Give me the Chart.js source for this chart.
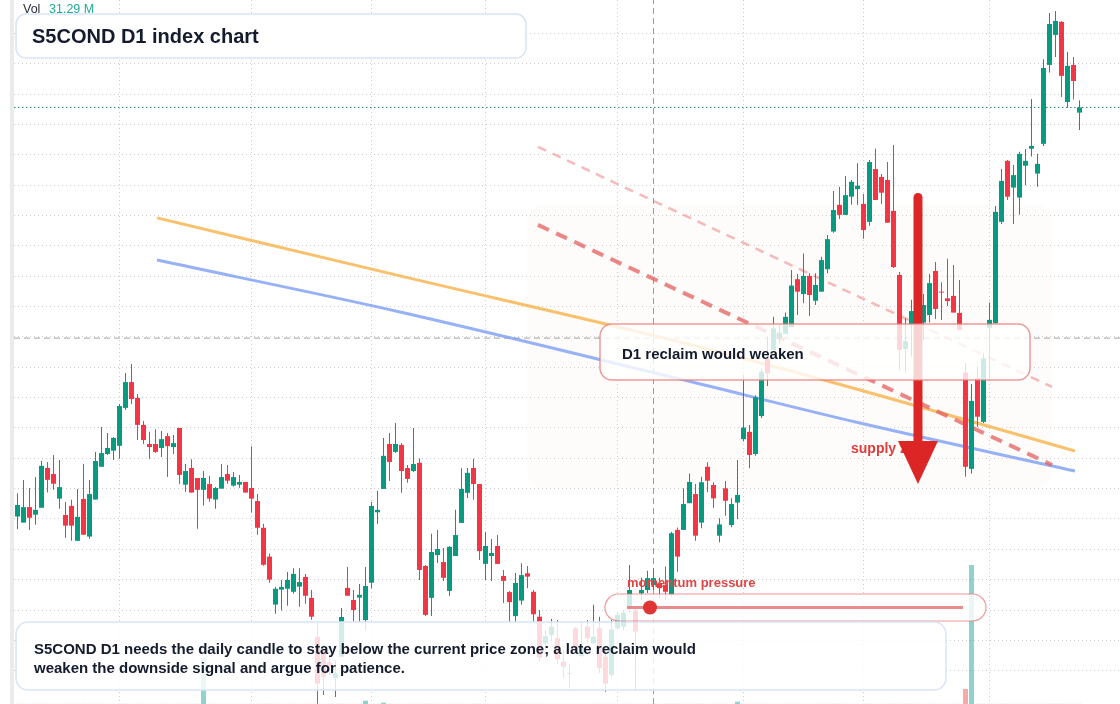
<!DOCTYPE html>
<html>
<head>
<meta charset="utf-8">
<title>S5COND D1 index chart</title>
<script src="https://cdn.jsdelivr.net/npm/chart.js@4.4.1/dist/chart.umd.min.js"></script>
<style>
html, body { margin: 0; padding: 0; background: #fff; }
#canvas { display: block; }
</style>
</head>
<body>
<canvas id="canvas" width="1120" height="704"></canvas>
<script>
// daily candles, oldest first
var open = [
1730.8,1728.8,1733.9,1731.4,1733.7,1746.8,1744.8,1736.7,1731.3,1734.3,
1722.8,1736.6,1724.2,1736.4,1747.2,1751.4,1752.5,1754.1,1766.6,1775.1,
1769.9,1761.0,1754.7,1754.7,1753.4,1757.3,1753.7,1760.0,1741.3,1746.8,
1743.5,1739.6,1741.5,1736.4,1740.0,1744.8,1741.0,1741.3,1742.2,1740.2,
1735.9,1727.1,1717.6,1701.8,1706.7,1707.0,1706.0,1707.7,1710.9,1704.0,
1691.1,1686.8,1682.9,1677.6,1684.6,1707.3,1703.3,1704.1,1696.7,1709.0,
1732.2,1739.9,1754.7,1752.1,1754.4,1746.8,1745.8,1748.5,1714.5,1704.0,
1718.1,1715.8,1706.3,1717.8,1728.7,1738.6,1746.8,1741.5,1715.2,1717.8,
1721.1,1711.2,1705.9,1698.0,1703.1,1712.1,1706.0,1697.8,1689.0,1691.8,
1690.7,1683.0,1678.9,1694.0,1684.8,1694.5,1689.0,1694.0,1684.6,1678.6,
1694.0,1694.5,1701.1,1699.8,1705.5,1706.6,1708.2,1708.8,1708.2,1705.0,
1726.4,1726.4,1735.2,1738.2,1728.8,1747.2,1741.2,1724.5,1740.1,1728.0,
1735.4,1756.3,1758.7,1751.4,1763.9,1782.9,1785.7,1789.5,1791.0,1793.2,
1809.0,1804.1,1810.1,1801.9,1804.9,1812.3,1824.7,1833.5,1830.2,1836.2,
1838.7,1833.8,1827.9,1845.3,1842.7,1841.7,1831.5,1810.4,1786.0,1793.9,
1796.2,1794.7,1797.2,1811.7,1804.9,1802.7,1803.5,1797.9,1778.2,1746.5,
1776.4,1762.0,1793.0,1794.5,1827.9,1848.0,1839.2,1835.9,1846.4,1852.0,
1843.8,1853.6,1879.6,1889.5,1893.8,1867.4,1879.6,1863.9
];
var high = [
1738.5,1742.8,1740.2,1743.8,1749.1,1748.8,1751.1,1749.4,1735.6,1736.3,
1739.9,1748.1,1742.8,1752.1,1760.3,1758.3,1757.0,1767.9,1778.1,1781.1,
1771.2,1762.3,1758.7,1759.6,1759.0,1758.3,1757.7,1760.0,1748.1,1749.7,
1743.5,1745.8,1744.2,1740.5,1748.1,1747.8,1745.5,1744.5,1742.2,1754.0,
1738.2,1728.4,1718.6,1707.7,1709.9,1712.5,1713.8,1713.8,1711.9,1706.6,
1696.1,1688.5,1685.2,1683.5,1700.7,1714.2,1706.6,1708.6,1714.2,1735.6,
1739.2,1756.7,1758.3,1761.6,1755.0,1747.8,1760.0,1749.9,1714.8,1725.1,
1726.4,1720.4,1721.1,1733.0,1746.7,1746.8,1749.8,1741.5,1725.7,1723.4,
1724.7,1713.2,1706.3,1712.2,1715.4,1714.5,1706.6,1700.0,1693.4,1697.0,
1696.7,1686.8,1682.4,1694.5,1696.1,1696.7,1701.7,1697.8,1687.9,1696.7,
1699.4,1700.0,1714.8,1700.3,1710.6,1712.9,1713.7,1710.6,1714.3,1725.8,
1727.2,1740.1,1745.0,1741.5,1743.9,1748.7,1742.1,1730.2,1742.5,1736.8,
1749.4,1777.4,1761.0,1770.8,1779.6,1790.1,1796.6,1794.2,1798.0,1812.0,
1810.7,1817.5,1811.0,1811.0,1816.4,1823.6,1838.1,1839.5,1843.0,1841.7,
1847.2,1837.1,1848.3,1852.1,1843.7,1847.6,1853.2,1811.4,1796.1,1802.2,
1805.4,1804.1,1810.7,1814.7,1808.0,1815.7,1813.7,1808.7,1781.3,1774.5,
1780.2,1784.6,1801.3,1833.1,1845.3,1848.3,1846.6,1851.0,1851.9,1868.4,
1850.3,1881.5,1896.7,1897.4,1894.1,1883.9,1882.2,1868.0
];
var low = [
1726.7,1728.8,1726.4,1728.1,1733.7,1738.7,1739.6,1733.4,1723.8,1722.8,
1722.8,1724.8,1723.5,1736.4,1747.2,1751.1,1749.4,1749.8,1765.9,1767.9,
1756.0,1754.7,1749.8,1751.7,1750.4,1743.8,1751.4,1741.5,1739.0,1738.7,
1726.8,1734.4,1735.7,1733.4,1740.0,1741.6,1740.6,1740.3,1738.7,1732.1,
1724.8,1714.6,1709.0,1698.8,1699.8,1701.4,1705.4,1701.1,1702.1,1696.8,
1669.1,1672.0,1678.6,1671.3,1684.6,1704.7,1696.1,1696.1,1693.4,1707.2,
1728.3,1739.9,1742.5,1751.7,1738.6,1741.9,1745.5,1709.9,1698.0,1698.0,
1715.5,1709.6,1704.6,1717.8,1728.7,1736.9,1736.3,1716.5,1709.9,1709.6,
1715.2,1702.3,1696.1,1696.1,1701.7,1707.2,1696.1,1683.0,1686.8,1689.6,
1682.4,1677.5,1674.2,1686.3,1684.6,1689.0,1689.0,1679.2,1673.1,1678.0,
1693.4,1693.4,1699.3,1673.6,1703.3,1705.6,1706.6,1704.0,1703.3,1704.4,
1712.6,1726.4,1735.2,1722.8,1726.9,1738.8,1733.7,1722.3,1731.1,1727.3,
1729.9,1755.5,1746.7,1750.8,1763.3,1773.8,1785.0,1787.9,1791.0,1793.2,
1797.2,1801.1,1796.9,1800.5,1804.9,1811.0,1824.3,1828.8,1830.2,1833.5,
1833.5,1822.3,1826.6,1835.1,1833.8,1827.6,1812.7,1779.1,1778.2,1783.5,
1792.3,1789.0,1794.7,1795.9,1795.6,1800.2,1798.0,1792.3,1743.9,1745.0,
1760.4,1761.6,1775.8,1794.5,1827.2,1835.1,1827.2,1830.2,1840.0,1849.4,
1839.5,1852.9,1877.1,1882.2,1869.0,1865.5,1868.2,1858.2
];
var close = [
1734.6,1733.9,1730.4,1733.0,1747.5,1742.9,1741.6,1740.5,1727.8,1727.8,
1730.7,1724.8,1738.2,1749.1,1751.7,1753.4,1756.7,1767.2,1775.1,1769.5,
1761.0,1756.0,1753.7,1752.1,1756.3,1754.0,1755.0,1744.5,1745.8,1738.7,
1739.6,1743.5,1736.7,1740.2,1743.8,1742.6,1743.8,1742.2,1738.7,1736.7,
1727.1,1714.9,1710.0,1707.0,1707.6,1709.9,1711.9,1709.2,1704.7,1697.8,
1675.8,1678.0,1680.9,1679.2,1697.7,1704.7,1700.0,1705.0,1707.9,1734.3,
1733.0,1750.8,1748.8,1754.7,1745.8,1743.2,1748.1,1713.2,1698.4,1719.1,
1720.1,1710.6,1720.8,1724.7,1739.9,1745.2,1741.5,1719.4,1721.1,1718.8,
1715.2,1709.6,1702.6,1708.9,1711.5,1711.0,1698.6,1684.3,1691.4,1694.5,
1683.8,1681.3,1679.2,1687.4,1687.9,1690.7,1691.2,1680.8,1675.8,1693.6,
1698.4,1699.1,1706.6,1692.9,1706.6,1710.5,1710.5,1707.2,1706.0,1725.3,
1717.6,1734.9,1742.2,1724.5,1742.1,1742.6,1736.8,1728.2,1736.0,1734.9,
1737.9,1760.1,1751.1,1770.1,1778.5,1778.0,1792.8,1791.4,1796.6,1806.9,
1804.9,1810.1,1803.8,1807.1,1815.3,1822.2,1831.8,1830.2,1836.7,1841.1,
1839.8,1825.2,1847.6,1835.1,1837.5,1827.6,1813.0,1785.7,1788.6,1798.5,
1800.5,1800.5,1807.7,1799.2,1804.6,1801.8,1798.0,1792.3,1747.2,1768.9,
1763.7,1782.9,1795.6,1831.2,1841.4,1836.2,1843.3,1850.3,1848.0,1852.9,
1847.0,1878.6,1893.1,1894.1,1876.0,1879.3,1874.3,1865.6
];
// volume, millions
var volume = [
28,31,26,33,35,30,27,29,34,32,
30,36,33,29,31,25,27,38,35,32,
34,29,26,28,27,30,24,37,31,33,
35,11760,30,26,28,27,25,26,29,34,
37,39,36,33,28,27,30,29,32,35,
38,33,27,30,34,32,31,29,843,36,
30,333,33,28,31,29,30,37,36,33,
27,30,32,29,33,28,30,36,31,27,
29,31,33,34,30,26,32,35,28,27,
31,29,25,30,28,27,26,33,32,34,
29,28,31,30,27,26,29,28,30,38,
34,32,30,35,33,29,28,31,30,29,
588,37,33,35,34,31,29,28,27,32,
30,31,29,28,33,34,36,30,31,29,
28,32,35,30,29,31,36,39,34,32,
30,31,33,32,28,30,29,33,3834,35541,
41,37,35,39,36,33,31,34,30,32,
29,38,36,33,37,34,32,31.29
];
// candle index of each month start (vertical grid)
var monthStarts = [17, 39, 59, 78, 100, 121, 141, 162];

// drawn levels
var trendX = [23.25, 63.75, 110.42, 140.42, 176.25];
var orangeY = [1829.2, 1810.1, 1788.3, 1772.5, 1752.4];
var blueY = [1815.3, 1798.2, 1776.1, 1761.6, 1745.8];
var dashX = [86.75, 172.42];
var dashThinY = [1852.6, 1773.5];
var dashThickY = [1826.9, 1747.8];
var lastPrice = 1865.6;
var crossX = 106, crossY = 1789.6;
var zone = { x0: 84.92, x1: 172.42, top: 1833.5, bottom: 1740.2 };
var arrow = { x: 150.08, top: 1837.4, base: 1755.7, tip: 1741.5 };

var xMin = -0.5833, xMax = 183.75;
var yMin = 1669.03, yMax = 1901;

var teal = '#089981', red = '#f23645';
var up = close.map(function(c, i){ return c >= open[i]; });

function pts(xs, ys){ return xs.map(function(x, i){ return {x: x, y: ys[i]}; }); }

function rr(ctx, x, y, w, h, r){
	ctx.beginPath();
	ctx.moveTo(x + r, y);
	ctx.arcTo(x + w, y, x + w, y + h, r);
	ctx.arcTo(x + w, y + h, x, y + h, r);
	ctx.arcTo(x, y + h, x, y, r);
	ctx.arcTo(x, y, x + w, y, r);
	ctx.closePath();
}

var FONT = '"Liberation Sans", Arial, sans-serif';

var overlay = {
	id: 'overlay',
	beforeDraw: function(chart){
		var ctx = chart.ctx;
		ctx.save();
		ctx.fillStyle = '#ffffff';
		ctx.fillRect(0, 0, chart.width, chart.height);
		ctx.fillStyle = '#ebebeb';
		ctx.fillRect(10, 0, 4, chart.height);
		ctx.restore();
	},
	beforeDatasetsDraw: function(chart){
		var ctx = chart.ctx, xs = chart.scales.x, ys = chart.scales.y;
		var x0 = xs.getPixelForValue(zone.x0), x1 = xs.getPixelForValue(zone.x1);
		var y0 = ys.getPixelForValue(zone.top), y1 = ys.getPixelForValue(zone.bottom);
		ctx.save();
		rr(ctx, x0, y0, x1 - x0, y1 - y0, 16);
		ctx.fillStyle = 'rgba(240,200,170,0.06)';
		ctx.fill();
		ctx.restore();
	},
	afterDatasetsDraw: function(chart){
		var ctx = chart.ctx, xs = chart.scales.x, ys = chart.scales.y;
		ctx.save();
		ctx.textBaseline = 'middle';

		// supply zone label, under the arrow
		ctx.fillStyle = '#e03c3c';
		ctx.font = 'bold 14px ' + FONT;
		ctx.fillText('supply zone', 851, 449);

		// big down arrow
		var ax = xs.getPixelForValue(arrow.x);
		var aTop = ys.getPixelForValue(arrow.top);
		var aBase = ys.getPixelForValue(arrow.base);
		var aTip = ys.getPixelForValue(arrow.tip);
		ctx.strokeStyle = '#dc2626';
		ctx.lineWidth = 9;
		ctx.lineCap = 'round';
		ctx.beginPath();
		ctx.moveTo(ax, aTop + 4.5);
		ctx.lineTo(ax, aBase + 2);
		ctx.stroke();
		ctx.fillStyle = '#dc2626';
		ctx.beginPath();
		ctx.moveTo(ax - 20, aBase);
		ctx.lineTo(ax + 20, aBase);
		ctx.lineTo(ax, aTip);
		ctx.closePath();
		ctx.fill();

		// reclaim box
		rr(ctx, 600, 324, 430, 56, 12);
		ctx.fillStyle = 'rgba(255,255,255,0.8)';
		ctx.fill();
		ctx.lineWidth = 1.5;
		ctx.strokeStyle = 'rgba(232,120,120,0.75)';
		ctx.stroke();
		ctx.fillStyle = '#131b2d';
		ctx.font = 'bold 15px ' + FONT;
		ctx.fillText('D1 reclaim would weaken', 622, 354.5);

		// momentum pill
		ctx.fillStyle = '#e04545';
		ctx.font = 'bold 13px ' + FONT;
		ctx.fillText('momentum pressure', 627, 583);
		rr(ctx, 605, 594, 381, 27, 13.5);
		ctx.fillStyle = 'rgba(255,255,255,0.8)';
		ctx.fill();
		ctx.lineWidth = 1.2;
		ctx.strokeStyle = 'rgba(232,110,110,0.7)';
		ctx.stroke();
		ctx.strokeStyle = 'rgba(228,110,110,0.8)';
		ctx.lineWidth = 3;
		ctx.lineCap = 'butt';
		ctx.beginPath();
		ctx.moveTo(627, 607.5);
		ctx.lineTo(963, 607.5);
		ctx.stroke();
		ctx.fillStyle = '#e03535';
		ctx.beginPath();
		ctx.arc(650, 607.5, 7, 0, Math.PI * 2);
		ctx.fill();

		// bottom note
		rr(ctx, 16, 622, 930, 68, 12);
		ctx.fillStyle = 'rgba(255,255,255,0.82)';
		ctx.fill();
		ctx.lineWidth = 1.5;
		ctx.strokeStyle = '#d8e4f7';
		ctx.stroke();
		ctx.fillStyle = '#131b2d';
		ctx.font = 'bold 15px ' + FONT;
		ctx.fillText('S5COND D1 needs the daily candle to stay below the current price zone; a late reclaim would', 34, 649.5);
		ctx.fillText('weaken the downside signal and argue for patience.', 34, 668.5);

		// title
		rr(ctx, 16, 14, 510, 44, 10);
		ctx.fillStyle = 'rgba(255,255,255,0.9)';
		ctx.fill();
		ctx.lineWidth = 1.5;
		ctx.strokeStyle = '#d8e4f7';
		ctx.stroke();
		ctx.fillStyle = '#131b2d';
		ctx.font = 'bold 20px ' + FONT;
		ctx.fillText('S5COND D1 index chart', 32, 37);

		// volume legend
		ctx.font = '12.5px ' + FONT;
		ctx.fillStyle = '#2a2e39';
		ctx.fillText('Vol', 23, 9.5);
		ctx.fillStyle = '#22ab94';
		ctx.fillText(volume[volume.length - 1].toFixed(2) + ' M', 49, 9.5);
		ctx.restore();
	}
};

var barBase = { grouped: false, borderWidth: 0, borderSkipped: false, inflateAmount: 0 };

function bars(extra){
	var o = {};
	for (var k in barBase) o[k] = barBase[k];
	for (var k2 in extra) o[k2] = extra[k2];
	return o;
}

var datasets = [
	bars({
		type: 'bar', label: 'Volume', yAxisID: 'yv', order: 20, barThickness: 5,
		data: volume.map(function(v, i){ return {x: i, y: v}; }),
		backgroundColor: up.map(function(u){ return u ? 'rgba(38,166,154,0.5)' : 'rgba(239,83,80,0.5)'; })
	}),
	{
		type: 'line', label: 'crossV', order: 16, data: [{x: crossX, y: yMin}, {x: crossX, y: yMax}],
		borderColor: '#9b9b9b', borderWidth: 1, borderDash: [6, 4], pointRadius: 0
	},
	{
		type: 'line', label: 'crossH', order: 16, data: [{x: xMin, y: crossY}, {x: xMax, y: crossY}],
		borderColor: '#a0a0a0', borderWidth: 1, borderDash: [6, 4], pointRadius: 0
	},
	{
		type: 'line', label: 'last', order: 15, data: [{x: xMin, y: lastPrice}, {x: xMax, y: lastPrice}],
		borderColor: 'rgba(20,110,95,0.9)', borderWidth: 1, borderDash: [1.5, 2.5], pointRadius: 0
	},
	{
		type: 'line', label: 'orange', order: 14, data: pts(trendX, orangeY),
		borderColor: 'rgba(248,182,84,0.85)', borderWidth: 3, pointRadius: 0, cubicInterpolationMode: 'monotone'
	},
	{
		type: 'line', label: 'blue', order: 14, data: pts(trendX, blueY),
		borderColor: 'rgba(125,158,245,0.8)', borderWidth: 3, pointRadius: 0, cubicInterpolationMode: 'monotone'
	},
	{
		type: 'line', label: 'upper', order: 13, data: pts(dashX, dashThinY),
		borderColor: 'rgba(240,140,140,0.6)', borderWidth: 2.5, borderDash: [9, 7], pointRadius: 0
	},
	{
		type: 'line', label: 'lower', order: 13, data: pts(dashX, dashThickY),
		borderColor: 'rgba(228,95,95,0.75)', borderWidth: 4, borderDash: [12, 8], pointRadius: 0
	},
	bars({
		type: 'bar', label: 'wick', order: 2, barThickness: 1,
		data: open.map(function(o, i){ return {x: i, y: [low[i], high[i]]}; }),
		backgroundColor: up.map(function(u){ return u ? teal : red; })
	}),
	bars({
		type: 'bar', label: 'body', order: 1, barThickness: 5,
		data: open.map(function(o, i){ return {x: i, y: [o, close[i]]}; }),
		backgroundColor: up.map(function(u){ return u ? teal : red; })
	})
];

var gridColor = 'rgba(0,0,0,0.2)';

new Chart(document.getElementById('canvas'), {
	type: 'bar',
	data: { datasets: datasets },
	options: {
		responsive: false,
		animation: false,
		events: [],
		layout: { padding: { left: 14, right: 0, top: 0, bottom: 0 } },
		plugins: { legend: { display: false }, tooltip: { enabled: false } },
		scales: {
			x: {
				type: 'linear', min: xMin, max: xMax, offset: false,
				grid: { offset: false, color: gridColor, drawTicks: false },
				border: { display: false, dash: [1, 3] },
				ticks: { display: false },
				afterBuildTicks: function(axis){
					axis.ticks = monthStarts.map(function(v){ return {value: v}; });
				}
			},
			y: {
				type: 'linear', position: 'right', min: yMin, max: yMax,
				grid: { color: gridColor, drawTicks: false },
				border: { display: false, dash: [1, 3] },
				ticks: { display: false, stepSize: 10 },
				afterBuildTicks: function(axis){
					axis.ticks = axis.ticks.filter(function(t){
						return Math.abs(t.value / 10 - Math.round(t.value / 10)) < 1e-6;
					});
				}
			},
			yv: { type: 'linear', display: false, min: 0, max: 180000 }
		}
	},
	plugins: [overlay]
});
</script>
</body>
</html>
